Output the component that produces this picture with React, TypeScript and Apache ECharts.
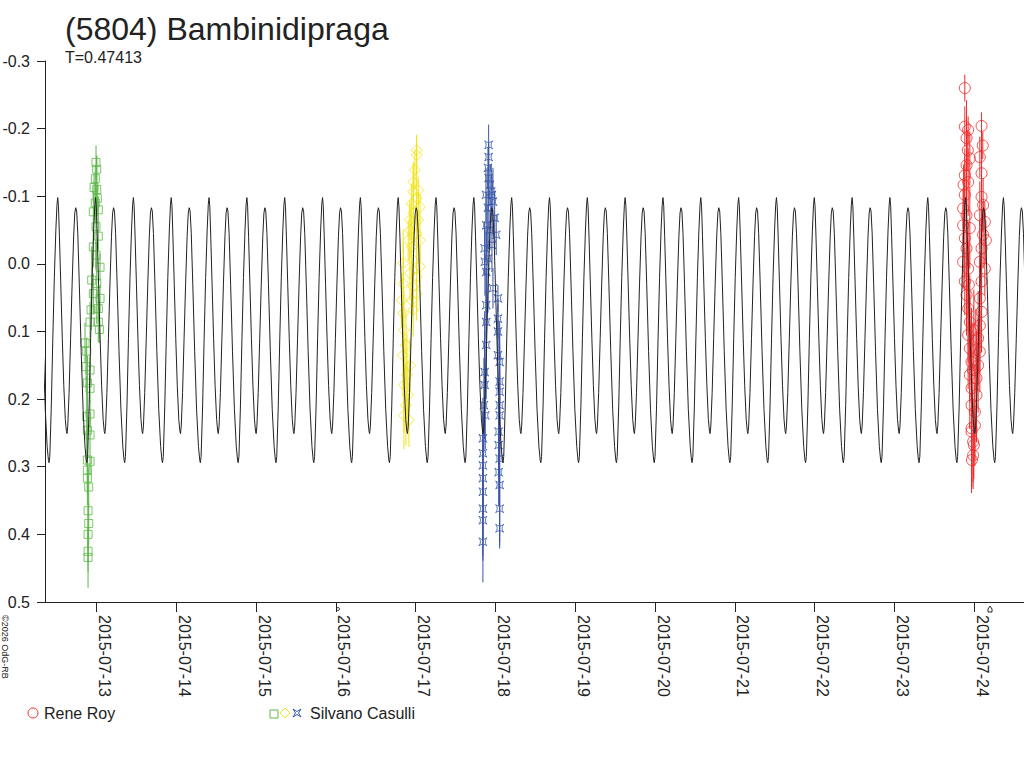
import React, { useEffect, useRef } from 'react';
import * as echarts from 'echarts';

// axis ranges
const X_MIN = '2015-07-12 08:30';
const X_MAX = '2015-07-24 15:00';
const Y_MIN = -0.3;
const Y_MAX = 0.5;
const Y_STEP = 0.1;

// model lightcurve: one rotation, repeated with period T
const PERIOD_DAYS = 0.47413;
const MODEL_EPOCH = '2015-07-12 12:20';
const MODEL_PHASE = [
  0.0, 0.02, 0.045, 0.08, 0.12, 0.16, 0.2, 0.23, 0.245, 0.265, 0.3, 0.34, 0.38, 0.42, 0.45,
  0.475, 0.5, 0.53, 0.57, 0.62, 0.67, 0.72, 0.755, 0.77, 0.79, 0.83, 0.87, 0.91, 0.95, 0.98,
];
const MODEL_MAG = [
  -0.098, -0.085, -0.04, 0.03, 0.11, 0.18, 0.23, 0.248, 0.251, 0.24, 0.19, 0.11, 0.03, -0.04, -0.075,
  -0.083, -0.078, -0.045, 0.03, 0.13, 0.215, 0.27, 0.291, 0.294, 0.285, 0.21, 0.11, 0.02, -0.05, -0.088,
];

// Rene Roy, 2015-07-23/24
const ROY_TIME = [
  '2015-07-23 21:12', '2015-07-23 21:12', '2015-07-23 22:12', '2015-07-23 21:43', '2015-07-24 02:14',
  '2015-07-23 22:06', '2015-07-24 02:36', '2015-07-23 22:42', '2015-07-24 01:43', '2015-07-23 21:43',
  '2015-07-23 21:12', '2015-07-23 22:12', '2015-07-23 20:50', '2015-07-24 02:14', '2015-07-24 02:14',
  '2015-07-23 21:12', '2015-07-23 20:41', '2015-07-23 21:43', '2015-07-24 02:42', '2015-07-24 01:43',
  '2015-07-23 20:41', '2015-07-23 22:42', '2015-07-24 03:13', '2015-07-24 02:42', '2015-07-23 21:12',
  '2015-07-24 03:31', '2015-07-24 02:14', '2015-07-23 21:43', '2015-07-23 20:41', '2015-07-24 01:43',
  '2015-07-24 03:13', '2015-07-23 22:12', '2015-07-23 21:12', '2015-07-24 02:14', '2015-07-23 22:24',
  '2015-07-23 21:43', '2015-07-24 01:43', '2015-07-23 22:12', '2015-07-24 02:14', '2015-07-23 22:42',
  '2015-07-24 01:43', '2015-07-23 23:55', '2015-07-23 22:12', '2015-07-24 01:12', '2015-07-23 22:42',
  '2015-07-24 00:31', '2015-07-24 01:43', '2015-07-23 23:13', '2015-07-24 01:12', '2015-07-23 23:37',
  '2015-07-23 22:42', '2015-07-24 00:43', '2015-07-23 23:13', '2015-07-24 00:43', '2015-07-23 23:13',
  '2015-07-24 00:13', '2015-07-24 00:13', '2015-07-23 23:13', '2015-07-23 23:13', '2015-07-23 23:42',
  '2015-07-23 23:55', '2015-07-23 23:42', '2015-07-23 23:19',
];
const ROY_MAG = [
  -0.26, -0.203, -0.198, -0.186, -0.204, -0.168, -0.175, -0.156, -0.158, -0.146,
  -0.131, -0.121, -0.117, -0.134, -0.099, -0.102, -0.082, -0.072, -0.087, -0.072,
  -0.057, -0.053, -0.062, -0.043, -0.038, -0.035, -0.023, -0.023, -0.003, -0.003,
  0.007, 0.007, 0.026, 0.026, 0.031, 0.046, 0.051, 0.066, 0.071, 0.086,
  0.091, 0.098, 0.105, 0.11, 0.125, 0.127, 0.13, 0.145, 0.15, 0.157,
  0.164, 0.169, 0.184, 0.194, 0.209, 0.219, 0.239, 0.243, 0.248, 0.263,
  0.268, 0.283, 0.29,
];
const ROY_ERR = [
  0.02, 0.03, 0.02, 0.03, 0.02, 0.03, 0.02, 0.04, 0.03, 0.05,
  0.04, 0.05, 0.03, 0.04, 0.1, 0.05, 0.03, 0.17, 0.04, 0.05,
  0.03, 0.06, 0.03, 0.05, 0.06, 0.03, 0.06, 0.07, 0.04, 0.06,
  0.04, 0.07, 0.05, 0.06, 0.06, 0.06, 0.07, 0.08, 0.06, 0.07,
  0.07, 0.06, 0.08, 0.07, 0.08, 0.06, 0.06, 0.08, 0.07, 0.07,
  0.08, 0.07, 0.08, 0.07, 0.13, 0.07, 0.06, 0.07, 0.06, 0.06,
  0.05, 0.05, 0.04,
];

// Silvano Casulli, 2015-07-12/13 (squares)
const CAS1_TIME = [
  '2015-07-12 20:32', '2015-07-12 21:03', '2015-07-12 20:51', '2015-07-12 22:03', '2015-07-12 21:15',
  '2015-07-12 22:03', '2015-07-12 21:03', '2015-07-12 22:03', '2015-07-12 21:15', '2015-07-12 22:03',
  '2015-07-12 21:15', '2015-07-12 22:03', '2015-07-12 21:15', '2015-07-12 21:15', '2015-07-12 21:39',
  '2015-07-12 21:27', '2015-07-12 21:39', '2015-07-12 21:27', '2015-07-12 21:27', '2015-07-12 21:27',
  '2015-07-13 00:51', '2015-07-13 00:32', '2015-07-12 23:51', '2015-07-13 00:04', '2015-07-12 23:38',
  '2015-07-12 23:15', '2015-07-13 00:04', '2015-07-13 00:14', '2015-07-12 23:38', '2015-07-13 00:32',
  '2015-07-12 23:02', '2015-07-12 23:51', '2015-07-13 00:32', '2015-07-12 23:02', '2015-07-12 23:51',
  '2015-07-13 01:03', '2015-07-12 22:33', '2015-07-13 00:04', '2015-07-12 23:02', '2015-07-13 01:03',
  '2015-07-12 22:21', '2015-07-13 00:32', '2015-07-12 22:03',
];
const CAS1_MAG = [
  0.117, 0.129, 0.152, 0.157, 0.176, 0.184, 0.226, 0.222, 0.246, 0.253,
  0.29, 0.292, 0.305, 0.317, 0.33, 0.365, 0.384, 0.4, 0.425, 0.434,
  0.097, 0.086, -0.15, -0.14, -0.126, -0.113, -0.11, -0.097, -0.09, -0.08,
  -0.077, -0.055, -0.041, -0.025, -0.013, 0.005, 0.024, 0.029, 0.044, 0.051,
  0.068, 0.066, 0.086,
];
const CAS1_ERR = [
  0.03, 0.02, 0.03, 0.02, 0.04, 0.02, 0.06, 0.02, 0.03, 0.02,
  0.05, 0.02, 0.03, 0.04, 0.03, 0.06, 0.03, 0.04, 0.03, 0.045,
  0.02, 0.03, 0.025, 0.02, 0.02, 0.02, 0.05, 0.02, 0.03, 0.02,
  0.03, 0.06, 0.02, 0.03, 0.02, 0.02, 0.05, 0.06, 0.03, 0.02,
  0.03, 0.02, 0.03,
];

// Silvano Casulli, 2015-07-16/17 (diamonds)
const CAS2_TIME = [
  '2015-07-17 00:18', '2015-07-17 00:18', '2015-07-16 23:47', '2015-07-16 23:17', '2015-07-17 00:47',
  '2015-07-16 23:17', '2015-07-17 00:18', '2015-07-16 22:48', '2015-07-17 01:18', '2015-07-16 23:17',
  '2015-07-16 22:17', '2015-07-17 00:47', '2015-07-16 22:17', '2015-07-17 00:18', '2015-07-16 21:46',
  '2015-07-17 01:18', '2015-07-16 22:48', '2015-07-16 20:16', '2015-07-16 23:17', '2015-07-17 01:18',
  '2015-07-16 22:17', '2015-07-17 00:18', '2015-07-16 20:16', '2015-07-16 23:17', '2015-07-16 19:47',
  '2015-07-16 22:48', '2015-07-17 00:18', '2015-07-16 20:16', '2015-07-16 23:17', '2015-07-16 20:29',
  '2015-07-16 21:05', '2015-07-16 20:11', '2015-07-16 22:17', '2015-07-16 21:23', '2015-07-16 20:29',
  '2015-07-16 21:41', '2015-07-16 21:05', '2015-07-16 20:29', '2015-07-16 21:59',
];
const CAS2_MAG = [
  -0.168, -0.161, -0.139, -0.121, -0.109, -0.107, -0.097, -0.089, -0.084, -0.075,
  -0.065, -0.065, -0.05, -0.045, -0.035, -0.035, -0.025, -0.001, -0.006, 0.004,
  0.014, 0.019, 0.029, 0.034, 0.054, 0.054, 0.044, 0.073, 0.068, 0.098,
  0.12, 0.135, 0.15, 0.164, 0.179, 0.194, 0.209, 0.224, 0.231,
];
const CAS2_ERR = [
  0.02, 0.03, 0.03, 0.03, 0.02, 0.04, 0.05, 0.03, 0.02, 0.05,
  0.03, 0.04, 0.04, 0.06, 0.03, 0.03, 0.04, 0.03, 0.05, 0.03,
  0.04, 0.05, 0.08, 0.04, 0.04, 0.04, 0.04, 0.05, 0.04, 0.06,
  0.05, 0.06, 0.04, 0.06, 0.07, 0.05, 0.06, 0.05, 0.04,
];

// Silvano Casulli, 2015-07-17/18 (stars)
const CAS3_TIME = [
  '2015-07-17 21:57', '2015-07-17 21:57', '2015-07-17 21:45', '2015-07-17 21:57', '2015-07-17 22:44',
  '2015-07-17 23:15', '2015-07-17 21:45', '2015-07-17 23:46', '2015-07-17 21:14', '2015-07-18 00:14',
  '2015-07-17 20:45', '2015-07-17 21:45', '2015-07-17 21:14', '2015-07-17 23:15', '2015-07-18 00:45',
  '2015-07-17 21:14', '2015-07-17 21:14', '2015-07-18 00:45', '2015-07-17 21:14', '2015-07-18 00:45',
  '2015-07-18 00:45', '2015-07-17 20:45', '2015-07-18 01:16', '2015-07-18 01:16', '2015-07-17 20:45',
  '2015-07-18 01:16', '2015-07-18 01:16', '2015-07-17 20:32', '2015-07-17 20:56', '2015-07-18 01:16',
  '2015-07-18 00:58', '2015-07-17 20:14', '2015-07-18 00:58', '2015-07-17 20:14', '2015-07-18 01:16',
  '2015-07-17 20:14', '2015-07-18 00:58', '2015-07-17 20:14', '2015-07-18 01:16', '2015-07-17 20:14',
  '2015-07-17 20:14', '2015-07-18 01:16', '2015-07-17 20:14', '2015-07-18 01:16', '2015-07-17 20:14',
  '2015-07-17 22:21', '2015-07-17 22:57', '2015-07-17 21:09', '2015-07-17 22:21', '2015-07-17 22:57',
  '2015-07-17 20:50',
];
const CAS3_MAG = [
  -0.176, -0.158, -0.142, -0.127, -0.107, -0.092, -0.083, -0.068, -0.057, -0.043,
  -0.023, -0.008, 0.012, 0.036, 0.051, 0.061, 0.086, 0.081, 0.12, 0.1,
  0.135, 0.16, 0.145, 0.174, 0.179, 0.189, 0.209, 0.209, 0.224, 0.224,
  0.248, 0.258, 0.268, 0.28, 0.288, 0.298, 0.308, 0.317, 0.327, 0.337,
  0.362, 0.362, 0.379, 0.391, 0.411, -0.117, -0.102, -0.102, -0.05, -0.028,
  -0.003,
];
const CAS3_ERR = [
  0.03, 0.02, 0.03, 0.05, 0.04, 0.05, 0.06, 0.04, 0.05, 0.03,
  0.04, 0.08, 0.06, 0.03, 0.02, 0.05, 0.08, 0.03, 0.08, 0.04,
  0.05, 0.09, 0.06, 0.07, 0.08, 0.07, 0.08, 0.07, 0.05, 0.06,
  0.05, 0.06, 0.05, 0.06, 0.07, 0.07, 0.05, 0.06, 0.09, 0.07,
  0.07, 0.05, 0.06, 0.03, 0.06, 0.03, 0.03, 0.04, 0.03, 0.04,
  0.05,
];

const RED = '#ee2b2b';
const GREEN = '#5cb848';
const YELLOW = '#f0e416';
const BLUE = '#3a56a8';
const INK = '#222222';
const FONT = '"Liberation Sans", Arial, sans-serif';
const DAY = 86400000;
const STAR = 'path://M0,0 Q5,4 10,0 Q6,5 10,10 Q5,6 0,10 Q4,5 0,0 Z';

const ts = (s: string) => new Date(s.replace(' ', 'T') + ':00').getTime();
const pad = (n: number) => (n < 10 ? '0' + n : '' + n);

const points = (times: string[], mags: number[], errs: number[]) =>
  times.map((t, i) => [ts(t), mags[i], errs[i]]);

const errorBars = (data: number[][], color: string) => ({
  type: 'custom',
  data,
  encode: { x: 0, y: 1 },
  z: 1,
  silent: true,
  renderItem: (_params: any, api: any) => {
    const a = api.coord([api.value(0), api.value(1) - api.value(2)]);
    const b = api.coord([api.value(0), api.value(1) + api.value(2)]);
    return {
      type: 'line',
      shape: { x1: a[0], y1: a[1], x2: b[0], y2: b[1] },
      style: { stroke: color, lineWidth: 1 },
    };
  },
});

const markers = (data: number[][], color: string, symbol: string, size: number) => ({
  type: 'scatter',
  data: data.map((d) => [d[0], d[1]]),
  symbol,
  symbolSize: size,
  z: 2,
  itemStyle: { color: 'rgba(0,0,0,0)', borderColor: color, borderWidth: 1 },
});

const App: React.FC = () => {
  const chartRef = useRef<HTMLDivElement>(null);

  useEffect(() => {
    const chart = echarts.init(chartRef.current!, null, { renderer: 'svg' });

    const period = PERIOD_DAYS * DAY;
    const t0 = ts(MODEL_EPOCH);
    const lo = ts(X_MIN) - period;
    const hi = ts(X_MAX) + period;
    const model: number[][] = [];
    for (let k = -2; k < 30; k++) {
      MODEL_PHASE.forEach((p, i) => {
        const t = t0 + (k + p) * period;
        if (t >= lo && t <= hi) model.push([t, MODEL_MAG[i]]);
      });
    }

    const roy = points(ROY_TIME, ROY_MAG, ROY_ERR);
    const cas1 = points(CAS1_TIME, CAS1_MAG, CAS1_ERR);
    const cas2 = points(CAS2_TIME, CAS2_MAG, CAS2_ERR);
    const cas3 = points(CAS3_TIME, CAS3_MAG, CAS3_ERR);

    const option: any = {
      animation: false,
      backgroundColor: '#ffffff',
      grid: { left: 45, right: 0, top: 61, bottom: 166, outerBoundsMode: 'none' },
      xAxis: {
        type: 'time',
        min: ts(X_MIN),
        max: ts(X_MAX),
        minInterval: DAY,
        maxInterval: DAY,
        splitLine: { show: false },
        axisLine: { onZero: false, lineStyle: { color: INK, width: 1 } },
        axisTick: { show: true, length: 10, lineStyle: { color: INK } },
        axisLabel: {
          rotate: -90,
          margin: 13,
          verticalAlign: 'bottom',
          color: INK,
          fontSize: 16,
          fontFamily: FONT,
          formatter: (v: number) => {
            const d = new Date(v);
            return `${d.getFullYear()}-${pad(d.getMonth() + 1)}-${pad(d.getDate())}`;
          },
        },
      },
      yAxis: {
        type: 'value',
        inverse: true,
        min: Y_MIN,
        max: Y_MAX,
        interval: Y_STEP,
        splitLine: { show: false },
        axisLine: { show: true, onZero: false, lineStyle: { color: INK, width: 1 } },
        axisTick: { show: true, length: 8, lineStyle: { color: INK } },
        axisLabel: {
          margin: 15,
          color: INK,
          fontSize: 16,
          fontFamily: FONT,
          formatter: (v: number) => v.toFixed(1),
        },
      },
      series: [
        errorBars(cas1, GREEN),
        errorBars(cas2, YELLOW),
        errorBars(cas3, BLUE),
        errorBars(roy, RED),
        markers(cas1, GREEN, 'rect', 8),
        markers(cas2, YELLOW, 'diamond', 11),
        markers(cas3, BLUE, STAR, 8),
        markers(roy, RED, 'circle', 11),
        {
          type: 'line',
          data: model,
          showSymbol: false,
          symbol: 'none',
          z: 3,
          silent: true,
          lineStyle: { color: INK, width: 1 },
        },
      ],
      graphic: [
        {
          type: 'text',
          x: 65,
          y: 29,
          style: { text: '(5804) Bambinidipraga', fontSize: 32, fontFamily: FONT, fill: INK, verticalAlign: 'middle' },
        },
        {
          type: 'text',
          x: 65,
          y: 57,
          style: { text: 'T=0.47413', fontSize: 16, fontFamily: FONT, fill: INK, verticalAlign: 'middle' },
        },
        {
          type: 'text',
          x: 5,
          y: 615,
          rotation: -Math.PI / 2,
          style: { text: '©2026 OdG-RB', fontSize: 9, fontFamily: FONT, fill: INK, align: 'left', verticalAlign: 'middle' },
        },
        { type: 'circle', shape: { cx: 33, cy: 713, r: 5 }, style: { fill: 'none', stroke: RED, lineWidth: 1 } },
        {
          type: 'text',
          x: 44,
          y: 713,
          style: { text: 'Rene Roy', fontSize: 16, fontFamily: FONT, fill: INK, verticalAlign: 'middle' },
        },
        { type: 'rect', shape: { x: 270, y: 710, width: 8, height: 8 }, style: { fill: 'none', stroke: GREEN, lineWidth: 1 } },
        {
          type: 'polygon',
          shape: { points: [[285, 708], [290, 713], [285, 718], [280, 713]] },
          style: { fill: 'none', stroke: YELLOW, lineWidth: 1 },
        },
        {
          type: 'polygon',
          shape: { points: [[293, 709], [297, 711.5], [301, 709], [298.5, 713], [301, 717], [297, 714.5], [293, 717], [295.5, 713]] },
          style: { fill: 'none', stroke: BLUE, lineWidth: 1 },
        },
        {
          type: 'text',
          x: 310,
          y: 713,
          style: { text: 'Silvano Casulli', fontSize: 16, fontFamily: FONT, fill: INK, verticalAlign: 'middle' },
        },
        { type: 'circle', shape: { cx: 338, cy: 609, r: 1.5 }, style: { fill: 'none', stroke: INK, lineWidth: 1 } },
        {
          type: 'polyline',
          shape: { points: [[988, 612], [988, 609], [990, 606], [992, 609], [992, 612], [988, 612]] },
          style: { fill: 'none', stroke: INK, lineWidth: 1 },
        },
      ],
    };

    chart.setOption(option);
    return () => {
      chart.dispose();
    };
  }, []);

  return (
    <div
      ref={chartRef}
      style={{ position: 'fixed', left: 0, top: 0, width: '1024px', height: '768px', background: '#fff' }}
    />
  );
};

export default App;
